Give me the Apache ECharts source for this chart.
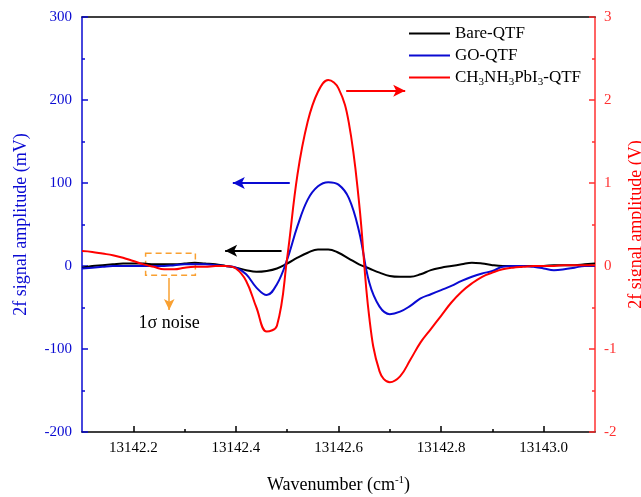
<!DOCTYPE html>
<html>
<head>
<meta charset="utf-8">
<script src="https://cdn.jsdelivr.net/npm/echarts@6/dist/echarts.min.js"></script>
<style>html,body{margin:0;padding:0;background:#fff}#c{width:641px;height:497px}</style>
</head>
<body>
<div id="c"></div>
<script>
// Wavenumber (cm-1)
const wavenumber = [13142.10,13142.12,13142.14,13142.16,13142.18,13142.20,13142.22,13142.24,13142.26,13142.28,
  13142.30,13142.32,13142.34,13142.36,13142.38,13142.40,13142.42,13142.44,13142.46,13142.48,
  13142.50,13142.52,13142.54,13142.56,13142.58,13142.60,13142.62,13142.64,13142.66,13142.68,
  13142.70,13142.72,13142.74,13142.76,13142.78,13142.80,13142.82,13142.84,13142.86,13142.88,
  13142.90,13142.92,13142.94,13142.96,13142.98,13143.00,13143.02,13143.04,13143.06,13143.08,13143.10];
// Bare-QTF (mV)
const bareQTF = [-2,0,1,2,3,3,3,2,2,2,
  3,4,3,2,0,-2,-5,-7,-6,-3,
  3,10,16,20,20,16,9,2,-3,-8,
  -12,-13,-13,-10,-5,-2,0,2,4,3,
  1,0,0,0,0,0,1,1,1,2,3];
// GO-QTF (mV)
const goQTF = [-3,-2,-1,0,0,0,0,0,0,1,
  2,2,2,1,0,-2,-10,-26,-35,-22,
  8,48,80,96,101,98,82,42,-20,-49,
  -58,-55,-48,-39,-34,-29,-24,-18,-13,-9,
  -6,-1,0,0,-1,-3,-5,-4,-2,0,0];
// CH3NH3PbI3-QTF (V)
const mapiQTF = [0.18,0.17,0.15,0.13,0.10,0.06,0.02,-0.01,-0.04,-0.04,
  -0.02,-0.01,-0.01,0,0,-0.03,-0.18,-0.50,-0.79,-0.72,
  0.10,1.10,1.74,2.10,2.24,2.14,1.73,0.77,-0.62,-1.27,
  -1.40,-1.33,-1.13,-0.92,-0.76,-0.60,-0.44,-0.31,-0.21,-0.13,
  -0.08,-0.04,-0.02,-0.01,0,0,0,0.01,0.01,0.01,0.01];
const xMajorTicks = [13142.2,13142.4,13142.6,13142.8,13143.0];
const xMinorTicks = [13142.3,13142.5,13142.7,13142.9];

const pair = (ys) => wavenumber.map((x,i)=>[x,ys[i]]);
const FONT = 'Liberation Serif';
const BLUE = '#0a0ad2', RED = '#ff0000', ORANGE = '#f9a031';

const chart = echarts.init(document.getElementById('c'), null, {renderer:'canvas'});
chart.setOption({
  animation:false,
  textStyle:{fontFamily:FONT},
  grid:{left:82,right:46,top:17,bottom:65,containLabel:false,outerBoundsMode:'none'},
  legend:{
    orient:'vertical', left:409, top:25, padding:0, itemWidth:41, itemHeight:2, itemGap:5, icon:'rect',
    textStyle:{fontFamily:FONT,fontSize:17,color:'#000',
      rich:{n:{fontFamily:FONT,fontSize:17,color:'#000'},s:{fontFamily:FONT,fontSize:11,color:'#000',padding:[9,0,0,0]}}},
    formatter:function(name){
      if(name==='MAPI') return '{n|CH}{s|3}{n|NH}{s|3}{n|PbI}{s|3}{n|-QTF}';
      return name;
    },
    data:['Bare-QTF','GO-QTF','MAPI']
  },
  xAxis:[{
    type:'value', min:13142.1, max:13143.1, position:'bottom',
    name:'Wavenumber (cm{sup|-1})', nameLocation:'middle', nameGap:43,
    nameTextStyle:{fontFamily:FONT,fontSize:18,color:'#000',rich:{sup:{fontFamily:FONT,fontSize:11,color:'#000',padding:[0,0,9,0]}}},
    axisLine:{onZero:false,lineStyle:{color:'#000',width:1.5}},
    axisTick:{inside:true,length:6,customValues:xMajorTicks,lineStyle:{color:'#000',width:1.5}},
    axisLabel:{customValues:xMajorTicks,fontFamily:FONT,fontSize:15,color:'#000',margin:9,formatter:v=>v.toFixed(1)},
    splitLine:{show:false}
  },{
    type:'value', min:13142.1, max:13143.1, position:'bottom',
    axisLine:{show:false,onZero:false},
    axisTick:{inside:true,length:3,customValues:xMinorTicks,lineStyle:{color:'#000',width:1.5}},
    axisLabel:{show:false}, splitLine:{show:false}
  },{
    type:'value', min:13142.1, max:13143.1, position:'top',
    axisLine:{onZero:false,lineStyle:{color:'#000',width:1.5}},
    axisTick:{show:false}, axisLabel:{show:false}, splitLine:{show:false}
  }],
  yAxis:[{
    type:'value', min:-200, max:300, interval:100, position:'left',
    name:'2f signal amplitude (mV)', nameLocation:'middle', nameGap:52, nameRotate:90,
    nameTextStyle:{fontFamily:FONT,fontSize:18,color:BLUE},
    axisLine:{show:true,onZero:false,lineStyle:{color:BLUE,width:1.5}},
    axisTick:{inside:true,length:6,lineStyle:{color:BLUE,width:1.5}},
    minorTick:{show:true,splitNumber:2,length:3,lineStyle:{color:BLUE,width:1.5}},
    axisLabel:{fontFamily:FONT,fontSize:15,color:BLUE,margin:10},
    splitLine:{show:false}
  },{
    type:'value', min:-2, max:3, interval:1, position:'right',
    name:'2f signal amplitude (V)', nameLocation:'middle', nameGap:30, nameRotate:90,
    nameTextStyle:{fontFamily:FONT,fontSize:18,color:RED},
    axisLine:{show:true,onZero:false,lineStyle:{color:'#ff3030',width:1.5}},
    axisTick:{inside:true,length:6,lineStyle:{color:'#ff3030',width:1.5}},
    minorTick:{show:true,splitNumber:2,length:3,lineStyle:{color:'#ff3030',width:1.5}},
    axisLabel:{fontFamily:FONT,fontSize:15,color:'#ff3030',margin:9},
    splitLine:{show:false}
  }],
  series:[{
    name:'Bare-QTF', type:'line', xAxisIndex:0, yAxisIndex:0, data:pair(bareQTF),
    smooth:0.4, symbol:'none', lineStyle:{color:'#000',width:2}, itemStyle:{color:'#000'}, z:2,
    markLine:{silent:true, animation:false, label:{show:false}, emphasis:{disabled:true},
      data:[
        [{coord:[13142.489,18.4],symbol:'none'},{coord:[13142.379,18.4],symbol:'arrow',symbolSize:[9,12],lineStyle:{color:'#000',width:2,type:'solid'}}],
        [{coord:[13142.27,-14.5],symbol:'none'},{coord:[13142.27,-53],symbol:'arrow',symbolSize:[8,11],lineStyle:{color:ORANGE,width:1.5,type:'solid'}}]
      ]},
    markArea:{silent:true, label:{show:false},
      itemStyle:{color:'rgba(0,0,0,0)',borderColor:ORANGE,borderWidth:1.5,borderType:[6,4]},
      data:[[{coord:[13142.224,15.3]},{coord:[13142.321,-11.2]}]]},
    markPoint:{silent:true, symbol:'circle', symbolSize:1, itemStyle:{color:'rgba(0,0,0,0)'},
      label:{show:true, position:'inside', formatter:'1σ noise', fontFamily:FONT, fontSize:18, color:'#000'},
      data:[{coord:[13142.27,-69]}]}
  },{
    name:'GO-QTF', type:'line', xAxisIndex:0, yAxisIndex:0, data:pair(goQTF),
    smooth:0.4, symbol:'none', lineStyle:{color:BLUE,width:2}, itemStyle:{color:BLUE}, z:3,
    markLine:{silent:true, animation:false, label:{show:false}, emphasis:{disabled:true},
      data:[[{coord:[13142.505,100],symbol:'none'},{coord:[13142.394,100],symbol:'arrow',symbolSize:[9,12],lineStyle:{color:BLUE,width:2,type:'solid'}}]]}
  },{
    name:'MAPI', type:'line', xAxisIndex:0, yAxisIndex:1, data:pair(mapiQTF),
    smooth:0.4, symbol:'none', lineStyle:{color:RED,width:2}, itemStyle:{color:RED}, z:4,
    markLine:{silent:true, animation:false, label:{show:false}, emphasis:{disabled:true},
      data:[[{coord:[13142.615,2.11],symbol:'none'},{coord:[13142.73,2.11],symbol:'arrow',symbolSize:[9,12],lineStyle:{color:RED,width:2,type:'solid'}}]]}
  }]
});
</script>
</body>
</html>
